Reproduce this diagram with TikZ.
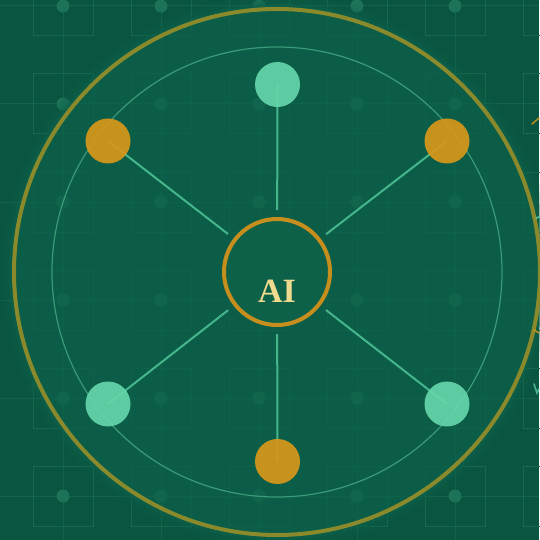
\documentclass[tikz,border=0pt]{standalone}
\usepackage{fontspec}
\setmainfont{Liberation Serif}
\pgfdeclarelayer{bglayer}
\pgfdeclarelayer{edgelayer}
\pgfsetlayers{bglayer,edgelayer,main}
\definecolor{bgc}{HTML}{0A5541}
\definecolor{discc}{HTML}{0E624A}
\definecolor{gridc}{HTML}{17684F}
\definecolor{dotc}{HTML}{1C7358}
\definecolor{ringgold}{HTML}{8A8A2C}
\definecolor{thinring}{HTML}{3A9A78}
\definecolor{spokec}{HTML}{45B68C}
\definecolor{goldc}{HTML}{D8981A}
\definecolor{tealc}{HTML}{66D6AB}
\definecolor{hubgold}{HTML}{C68E1C}
\definecolor{aitext}{HTML}{EED98C}
\tikzset{
  gridline/.style={draw=gridc, line width=1pt},
  cellbox/.style={draw=gridc, line width=1pt},
  celldot/.style={fill=dotc},
  spoke/.style={draw=spokec, line width=2pt, shorten <=7pt},
  sat/.style={circle, minimum size=45pt, inner sep=0pt, fill opacity=0.92},
  goldsat/.style={sat, fill=goldc},
  tealsat/.style={sat, fill=tealc},
  hub/.style={circle, minimum size=106pt, inner sep=0pt, draw=hubgold, line width=4pt, fill=discc, fill opacity=0.8},
  edgebit/.style={line width=1.6pt, line cap=round}
}
\begin{document}
\begin{tikzpicture}[x=1pt,y=-1pt]
\useasboundingbox (0,0) rectangle (539,540);
\begin{pgfonlayer}{bglayer}
\fill[bgc] (0,0) rectangle (539,540);
% background grid pattern
\foreach \x in {-35,63,161,259,357,455,553} {
  \draw[gridline, opacity=0.7] (\x,0) -- (\x,540);
}
\foreach \y in {6,104,202,300,398,496} {
  \draw[gridline, opacity=0.7] (0,\y) -- (539,\y);
}
\foreach \x in {-35,63,161,259,357,455,553} {
  \foreach \y in {-92,6,104,202,300,398,496,594} {
    \draw[cellbox] (\x-30,\y-30) rectangle (\x+30,\y+30);
    \fill[celldot] (\x,\y) circle (6.5);
  }
}
% glow disc
\foreach \r/\o in {277/0.1,274/0.15,271/0.25,268/0.55} {
  \fill[discc, opacity=\o] (277,272) circle (\r);
}
% rings
\draw[ringgold, line width=4pt] (277,272) circle (263);
\draw[thinring, line width=1.2pt] (277,272) circle (225);
% fragments at right edge
\draw[goldc, edgebit, opacity=0.8] (532,124) -- (539,118);
\draw[tealc, edgebit, opacity=0.8] (536,218) -- (539,217);
\draw[goldc, edgebit, opacity=0.8] (534,330) -- (539,333);
\draw[tealc, edgebit, opacity=0.7] (534,384) -- (537,393) -- (539,389);
\end{pgfonlayer}
% hub and satellites
\node[hub] (ai) at (277,272) {};
\node[text=aitext, font=\fontsize{34}{34}\selectfont\bfseries, anchor=base] (ailabel) at (277,302.5) {AI};
\node[tealsat] (top) at (277.5,84.5) {};
\node[goldsat] (ul) at (108,141) {};
\node[goldsat] (ur) at (447,141) {};
\node[tealsat] (ll) at (108,404) {};
\node[tealsat] (lr) at (447,404) {};
\node[goldsat] (bot) at (277.5,461.5) {};
\begin{pgfonlayer}{edgelayer}
\foreach \s in {top,ul,ur,ll,lr,bot} {
  \draw[spoke] (ai) -- (\s.center);
}
\end{pgfonlayer}
\end{tikzpicture}
\end{document}
